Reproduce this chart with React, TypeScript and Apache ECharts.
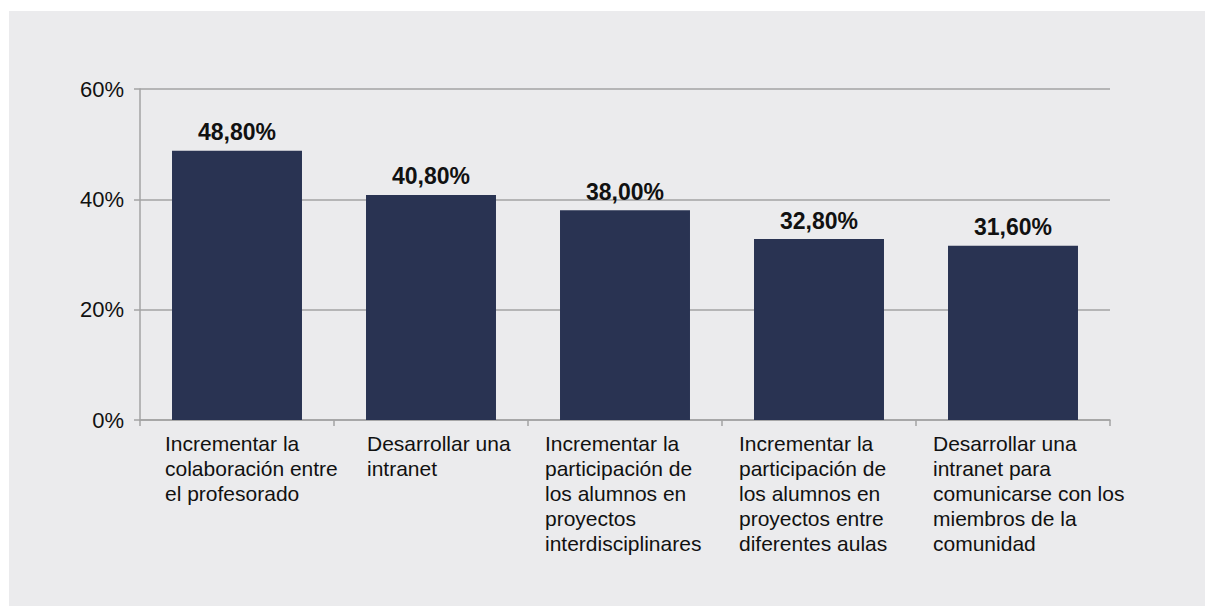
import React, { useEffect, useRef } from "react";
import * as echarts from "echarts";

const categories: string[] = [
  "Incrementar la\ncolaboración entre\nel profesorado",
  "Desarrollar una\nintranet",
  "Incrementar la\nparticipación de\nlos alumnos en\nproyectos\ninterdisciplinares",
  "Incrementar la\nparticipación de\nlos alumnos en\nproyectos entre\ndiferentes aulas",
  "Desarrollar una\nintranet para\ncomunicarse con los\nmiembros de la\ncomunidad",
];
const values: number[] = [48.8, 40.8, 38.0, 32.8, 31.6];
const yTicks: number[] = [0, 20, 40, 60];

const FONT = "'Liberation Sans', Arial, Helvetica, sans-serif";

export default function App() {
  const ref = useRef<HTMLDivElement>(null);
  useEffect(() => {
    if (!ref.current) return;
    const chart = echarts.init(ref.current, undefined, { renderer: "svg" });
    const padNames = ["p0", "p1", "p2", "p3", "p4"];
    const padLeft = [8, 16, 0, 0, 0];
    const rich: Record<string, any> = {};
    padNames.forEach((n, i) => {
      rich[n] = {
        align: "left",
        fontSize: 21,
        lineHeight: 25,
        color: "#111",
        fontFamily: FONT,
        padding: [0, 0, 0, padLeft[i]],
      };
    });
    chart.setOption({
      animation: false,
      backgroundColor: "#ebebed",
      grid: { left: 131, right: 95, top: 78, bottom: 186, containLabel: false },
      xAxis: {
        type: "category",
        data: categories,
        axisLine: { show: true, lineStyle: { color: "#a3a3a3", width: 1.5 } },
        axisTick: { show: true, alignWithLabel: false, length: 6, lineStyle: { color: "#a3a3a3", width: 1.5 } },
        axisLabel: {
          interval: 0,
          margin: 11,
          width: 160,
          align: "center",
          verticalAlign: "top",
          formatter: (v: string, idx: number) =>
            v
              .split("\n")
              .map((line) => `{${padNames[idx]}|${line}}`)
              .join("\n"),
          rich,
        },
      },
      yAxis: {
        type: "value",
        min: yTicks[0],
        max: yTicks[yTicks.length - 1],
        interval: yTicks[1] - yTicks[0],
        axisLine: { show: true, lineStyle: { color: "#a3a3a3", width: 1.5 } },
        axisTick: { show: true, length: 6, lineStyle: { color: "#a3a3a3", width: 1.5 } },
        splitLine: { show: true, lineStyle: { color: "#a3a3a3", width: 1.5 } },
        axisLabel: {
          margin: 16,
          fontSize: 22,
          color: "#111",
          fontFamily: FONT,
          formatter: (v: number) => `${v}%`,
        },
      },
      series: [
        {
          type: "bar",
          data: values,
          barWidth: "67%",
          itemStyle: { color: "#293352" },
          label: {
            show: true,
            position: "top",
            distance: 7,
            fontSize: 23,
            fontWeight: "bold",
            color: "#111",
            fontFamily: FONT,
            formatter: (p: any) => `${p.value.toFixed(2).replace(".", ",")}%`,
          },
        },
      ],
    });
    return () => chart.dispose();
  }, []);
  return (
    <div style={{ position: "fixed", left: 0, top: 0, width: 1205, height: 606, background: "#fff" }}>
      <div ref={ref} style={{ position: "absolute", left: 9, top: 11, width: 1196, height: 595 }} />
    </div>
  );
}
